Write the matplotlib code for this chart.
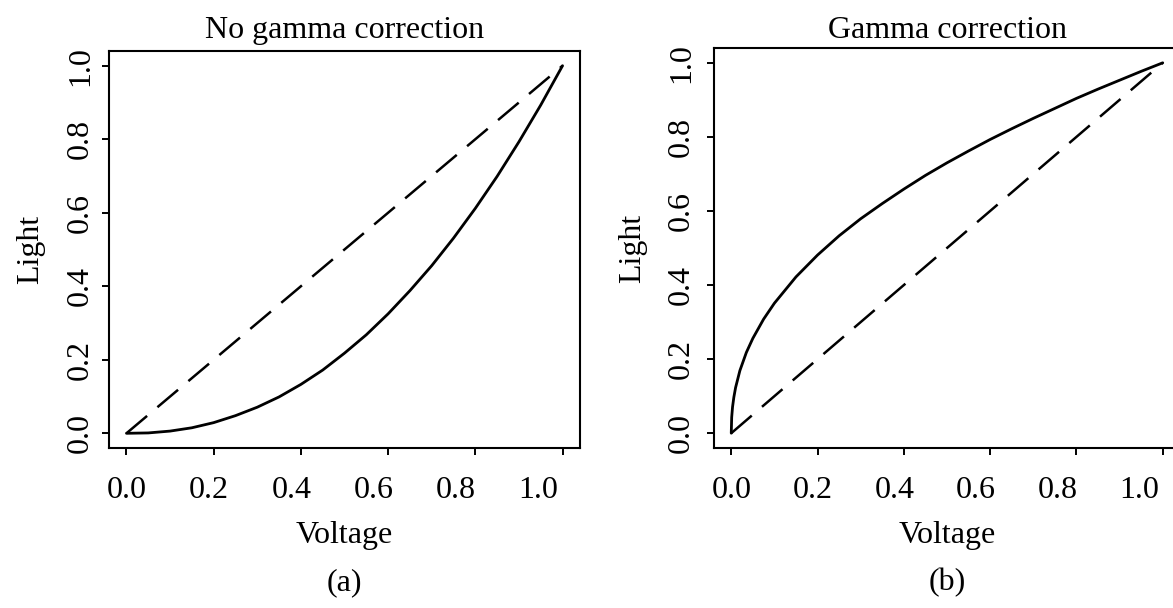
import matplotlib
matplotlib.use("Agg")
import matplotlib.pyplot as plt

plt.rcParams['font.family'] = ['Liberation Serif', 'DejaVu Serif']

# Data
voltage = [0.0, 0.05, 0.1, 0.15, 0.2, 0.25, 0.3, 0.35, 0.4, 0.45, 0.5,
           0.55, 0.6, 0.65, 0.7, 0.75, 0.8, 0.85, 0.9, 0.95, 1.0]
light_no_corr = [0.0, 0.001, 0.006, 0.015, 0.029, 0.048, 0.071, 0.099, 0.133,
                 0.172, 0.218, 0.268, 0.325, 0.388, 0.456, 0.531, 0.612,
                 0.699, 0.793, 0.893, 1.0]

voltage_b = [0.0, 0.001, 0.003, 0.006, 0.01, 0.02, 0.035, 0.05, 0.075, 0.1,
             0.15, 0.2, 0.25, 0.3, 0.35, 0.4, 0.45, 0.5, 0.55, 0.6, 0.65,
             0.7, 0.75, 0.8, 0.85, 0.9, 0.95, 1.0]
light_corr = [0.0, 0.043, 0.071, 0.097, 0.123, 0.169, 0.218, 0.256, 0.308,
              0.351, 0.422, 0.481, 0.533, 0.579, 0.620, 0.659, 0.696, 0.730,
              0.762, 0.793, 0.822, 0.850, 0.877, 0.904, 0.929, 0.953, 0.977, 1.0]

diag = [0.0, 1.0]
ticks = [0.0, 0.2, 0.4, 0.6, 0.8, 1.0]
tick_labels = ["0.0", "0.2", "0.4", "0.6", "0.8", "1.0"]
titles = ["No gamma correction", "Gamma correction"]
panel_labels = ["(a)", "(b)"]

W, H = 1173, 608
fig = plt.figure(figsize=(W / 100, H / 100), dpi=100)

def px_rect(l, t, r, b):
    return [l / W, 1 - b / H, (r - l) / W, (b - t) / H]

boxes = [(109, 51, 580, 448), (714, 48, 1180, 448)]
ylabel_right_px = [45, 647]
ytick_pads = [5, 8]
axes = [fig.add_axes(px_rect(*b)) for b in boxes]

FS = 23
PT = 0.72  # points per pixel at dpi 100
LABEL_DRIFT = 0.945  # x tick labels in the reference sit slightly left of their ticks

series = [(voltage, light_no_corr), (voltage_b, light_corr)]
for ax, box, yl_px, ypad, (xs, ys), title, plab in zip(
        axes, boxes, ylabel_right_px, ytick_pads, series, titles, panel_labels):
    l, t, r, b = box
    ax.plot(xs, ys, color='black', lw=2.0, solid_joinstyle='round',
            solid_capstyle='round')
    ln, = ax.plot(diag, diag, color='black', lw=1.8)
    ln.set_dashes((10.8, 5.4))
    ax.set_xlim(-0.04, 1.04)
    ax.set_ylim(-0.04, 1.04)
    ax.set_xticks(ticks)
    ax.set_xticklabels([])
    ax.set_yticks(ticks)
    ax.set_yticklabels(tick_labels, rotation=90, va='center')
    ax.tick_params(axis='both', direction='out', length=5, width=1.4,
                   labelsize=FS, colors='black')
    ax.tick_params(axis='y', pad=ypad)
    for sp in ax.spines.values():
        sp.set_linewidth(1.5)
        sp.set_color('black')
    # x tick labels (baseline ~50 px under the box)
    for v, lab in zip(ticks, tick_labels):
        ax.annotate(lab, xy=(v * LABEL_DRIFT, 0), xycoords=('data', 'axes fraction'),
                    xytext=(0, -50 * PT), textcoords='offset points',
                    ha='center', va='baseline', fontsize=FS, annotation_clip=False)
    ax.set_title(title, fontsize=FS, pad=(t - 38) * PT)
    ax.set_xlabel("Voltage", fontsize=FS)
    ax.xaxis.set_label_coords(0.5, -(521 - b) / (b - t))
    ax.set_ylabel("Light", fontsize=FS)
    ax.yaxis.set_label_coords((yl_px - l) / (r - l), 0.5)
    pos = ax.get_position()
    fig.text(pos.x0 + pos.width / 2, 1 - 583 / H, plab, fontsize=FS,
             ha='center', va='center')

fig.savefig("out.png", dpi=100, facecolor='white')
